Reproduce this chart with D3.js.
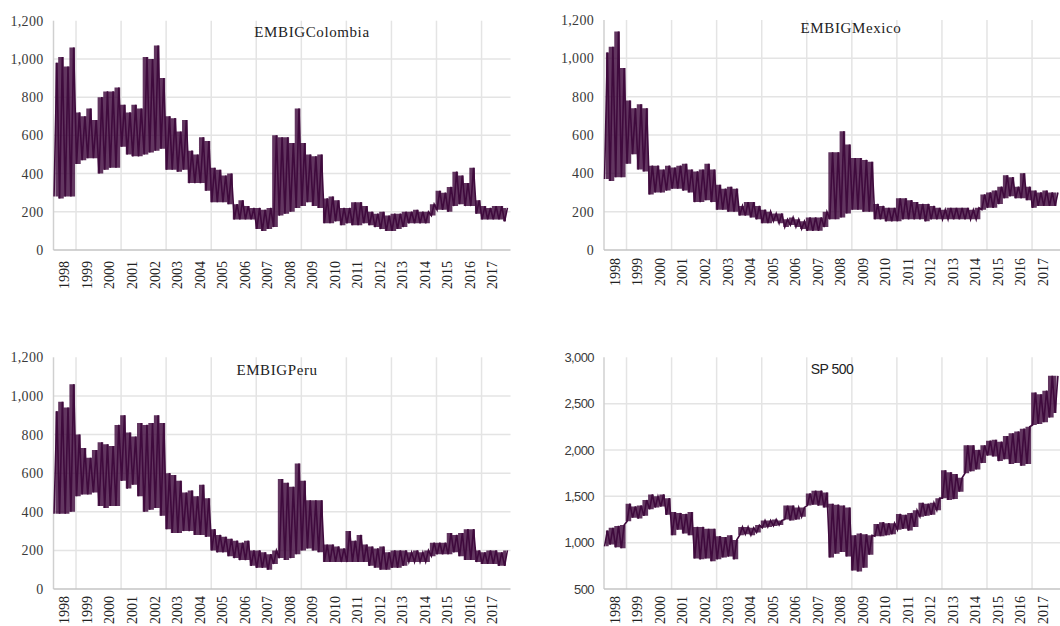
<!DOCTYPE html>
<html>
<head>
<meta charset="utf-8">
<script src="https://cdn.jsdelivr.net/npm/d3@7"></script>
<style>
    body { margin: 0; background: #fff; }
    svg { display: block; }
</style>
</head>
<body>
<div id="chart"></div>
<script>
// quarterly ranges, 1998Q1 .. 2018Q1 (low / high of the daily spread)
let colombia_low = [280, 270, 280, 280, 450, 470, 480, 480, 400, 420, 430, 430, 540, 500, 490, 490,
    500, 510, 520, 530, 420, 420, 410, 420, 350, 350, 350, 310, 250, 250, 250, 240,
    160, 160, 160, 160, 110, 100, 110, 120, 180, 190, 200, 220, 230, 250, 230, 220,
    140, 140, 150, 130, 140, 130, 130, 140, 130, 120, 110, 100, 100, 110, 120, 140,
    140, 140, 140, 180, 210, 210, 200, 230, 240, 230, 230, 190, 160, 160, 160, 160, 150];
let colombia_high = [980, 1010, 960, 1060, 720, 700, 740, 680, 800, 830, 830, 850, 760, 720, 760, 740,
    1010, 1000, 1070, 900, 700, 690, 620, 680, 520, 500, 590, 570, 430, 420, 390, 400,
    240, 260, 230, 220, 220, 210, 220, 600, 590, 590, 560, 740, 560, 500, 490, 500,
    270, 280, 260, 220, 220, 250, 250, 230, 200, 190, 200, 180, 190, 190, 200, 200,
    210, 200, 200, 240, 310, 300, 330, 410, 390, 350, 430, 260, 230, 220, 230, 230, 220];

let mexico_low = [370, 360, 380, 380, 450, 500, 420, 410, 290, 300, 300, 310, 320, 320, 310, 300,
    250, 250, 260, 250, 210, 210, 200, 200, 180, 180, 170, 160, 140, 140, 150, 140,
    120, 130, 120, 110, 100, 100, 100, 120, 160, 160, 170, 190, 210, 210, 200, 200,
    160, 160, 150, 150, 150, 160, 160, 160, 160, 150, 160, 160, 160, 160, 160, 160,
    160, 160, 160, 210, 220, 220, 240, 270, 280, 270, 270, 260, 220, 230, 230, 230, 230];
let mexico_high = [1030, 1060, 1140, 950, 780, 740, 760, 740, 440, 440, 420, 440, 430, 440, 450, 420,
    410, 420, 450, 420, 340, 320, 330, 320, 230, 250, 250, 230, 210, 200, 190, 190,
    160, 170, 160, 150, 170, 170, 170, 200, 510, 510, 620, 550, 480, 480, 470, 460,
    240, 230, 220, 220, 270, 270, 260, 250, 240, 240, 230, 220, 210, 220, 220, 220,
    220, 210, 220, 290, 300, 310, 330, 390, 380, 330, 400, 330, 310, 300, 310, 300, 300];

let peru_low = [390, 390, 390, 400, 480, 490, 490, 500, 430, 420, 430, 430, 560, 520, 540, 480,
    400, 410, 420, 380, 310, 290, 290, 300, 300, 280, 280, 270, 200, 190, 190, 170,
    160, 150, 150, 120, 110, 110, 100, 130, 160, 150, 160, 180, 200, 210, 200, 190,
    140, 140, 140, 140, 140, 140, 140, 140, 120, 110, 100, 100, 110, 110, 120, 140,
    140, 140, 140, 170, 180, 180, 180, 190, 170, 150, 150, 140, 130, 130, 130, 120, 120];
let peru_high = [920, 970, 940, 1060, 800, 730, 680, 720, 760, 750, 740, 850, 900, 810, 790, 860,
    850, 860, 900, 860, 600, 590, 560, 500, 510, 480, 540, 470, 310, 280, 270, 260,
    250, 240, 250, 200, 200, 190, 180, 200, 570, 550, 530, 650, 560, 460, 460, 460,
    230, 230, 220, 210, 300, 250, 280, 230, 220, 210, 220, 190, 200, 200, 200, 190,
    200, 190, 200, 240, 240, 240, 290, 280, 290, 310, 310, 200, 190, 200, 200, 190, 200];

let sp500_low = [960, 980, 950, 940, 1230, 1270, 1260, 1290, 1360, 1380, 1390, 1300, 1080, 1140, 1100, 1080,
    830, 820, 830, 800, 820, 840, 850, 820, 1080, 1090, 1080, 1110, 1160, 1170, 1180, 1190,
    1250, 1240, 1250, 1280, 1400, 1410, 1400, 1380, 840, 880, 900, 850, 700, 690, 730, 870,
    1070, 1070, 1080, 1090, 1140, 1150, 1130, 1170, 1280, 1290, 1300, 1350, 1480, 1460, 1470, 1550,
    1750, 1770, 1790, 1860, 1940, 1930, 1880, 1900, 1850, 1860, 1830, 1850, 2270, 2280, 2300, 2350, 2400];
let sp500_high = [1130, 1160, 1180, 1190, 1420, 1390, 1400, 1460, 1520, 1500, 1520, 1480, 1330, 1320, 1310, 1330,
    1170, 1170, 1150, 1150, 1070, 1060, 1080, 1030, 1170, 1170, 1160, 1190, 1240, 1240, 1250, 1240,
    1400, 1400, 1380, 1380, 1530, 1560, 1560, 1540, 1420, 1410, 1400, 1380, 1080, 1100, 1090, 1080,
    1200, 1220, 1210, 1210, 1310, 1300, 1320, 1350, 1430, 1420, 1430, 1480, 1780, 1760, 1740, 1700,
    2050, 2050, 2000, 2050, 2100, 2110, 2090, 2150, 2180, 2200, 2230, 2250, 2620, 2600, 2640, 2800, 2800];

let embig_ticks = [0, 200, 400, 600, 800, 1000, 1200];
let sp500_ticks = [500, 1000, 1500, 2000, 2500, 3000];
let year_labels = d3.range(1998, 2018);
let grid_years = [1999, 2001, 2003, 2005, 2007, 2009, 2011, 2013, 2015, 2017];

let width = 1060;
let height = 626;
let line_color = "#3f0a3d";
let serif = "'Liberation Serif', 'DejaVu Serif', serif";
let sans = "'Liberation Sans', 'DejaVu Sans', sans-serif";

let panels = [
    { title: "EMBIGColombia", low: colombia_low, high: colombia_high, ticks: embig_ticks,
      x: 53.5, y: 20.7, w: 457, h: 229.3, titleX: 312, titleY: 34, titleFont: serif, tickFont: serif, labelGap: 11 },
    { title: "EMBIGMexico", low: mexico_low, high: mexico_high, ticks: embig_ticks,
      x: 604, y: 20, w: 457, h: 230, titleX: 851, titleY: 30, titleFont: serif, tickFont: serif, labelGap: 8 },
    { title: "EMBIGPeru", low: peru_low, high: peru_high, ticks: embig_ticks,
      x: 53.5, y: 357.3, w: 457, h: 231.7, titleX: 277, titleY: 372, titleFont: serif, tickFont: serif, labelGap: 7 },
    { title: "SP 500", low: sp500_low, high: sp500_high, ticks: sp500_ticks,
      x: 604, y: 357.3, w: 457, h: 231.7, titleX: 832, titleY: 370, titleFont: sans, tickFont: sans, labelGap: 7 }
];

let svg = d3.select("#chart")
    .append("svg")
    .attr("width", width)
    .attr("height", height)
    .style("background", "#fff");

function buildPoints(low, high)
{
    // two readings per quarter: the low, then the high, giving the jagged daily spread
    let points = [];
    for (let i = 0; i < low.length; i++)
    {
        points.push({ date: new Date(1998, i * 3, 10), value: low[i] });
        points.push({ date: new Date(1998, i * 3, 55), value: high[i] });
    }
    return points;
}

function buildRanges(low, high)
{
    // one low/high pair per quarter for the filled spread
    return low.map((lo, i) => ({ date: new Date(1998, i * 3, 32), low: lo, high: high[i] }));
}

function drawPanel(p)
{
    let g = svg.append("g").attr("transform", "translate(" + p.x + "," + p.y + ")");

    let x = d3.scaleTime()
        .domain([new Date(1998, 0, 1), new Date(2018, 3, 15)])
        .range([0, p.w]);
    let y = d3.scaleLinear()
        .domain([p.ticks[0], p.ticks[p.ticks.length - 1]])
        .range([p.h, 0]);

    // horizontal grid
    g.append("g")
        .selectAll("line")
        .data(p.ticks.slice(1, -1))
        .enter()
        .append("line")
        .attr("x1", 0)
        .attr("x2", p.w)
        .attr("y1", d => y(d))
        .attr("y2", d => y(d))
        .attr("stroke", "#e4e4e4")
        .attr("stroke-width", 1.5);

    // vertical grid every two years
    g.append("g")
        .selectAll("line")
        .data(grid_years)
        .enter()
        .append("line")
        .attr("x1", d => x(new Date(d, 0, 1)))
        .attr("x2", d => x(new Date(d, 0, 1)))
        .attr("y1", 0)
        .attr("y2", p.h)
        .attr("stroke", "#e4e4e4")
        .attr("stroke-width", 1.5);

    // axis lines
    g.append("line")
        .attr("x1", 0).attr("x2", 0)
        .attr("y1", 0).attr("y2", p.h)
        .attr("stroke", "#d0d0d0")
        .attr("stroke-width", 1.5);
    g.append("line")
        .attr("x1", 0).attr("x2", p.w)
        .attr("y1", p.h).attr("y2", p.h)
        .attr("stroke", "#c4c4c4")
        .attr("stroke-width", 1.5);

    // y axis labels
    let yAxis = g.append("g")
        .call(d3.axisLeft(y).tickValues(p.ticks).tickSize(0).tickPadding(10).tickFormat(d3.format(",")));
    yAxis.select(".domain").remove();
    yAxis.attr("font-family", p.tickFont);
    yAxis.selectAll("text")
        .style("font-family", p.tickFont)
        .style("font-size", p.tickFont === sans ? "13px" : "14px")
        .style("letter-spacing", p.tickFont === sans ? "-0.6px" : "0.3px")
        .attr("fill", "#3a3a3a");

    // x axis labels, one per year, rotated
    let xAxis = g.append("g")
        .attr("transform", "translate(0," + p.h + ")")
        .call(d3.axisBottom(x)
            .tickValues(year_labels.map(yr => new Date(yr, 5, 20)))
            .tickSize(0)
            .tickFormat(d3.timeFormat("%Y")));
    xAxis.select(".domain").remove();
    xAxis.attr("font-family", serif);
    xAxis.selectAll("text")
        .attr("transform", "rotate(-90)")
        .attr("x", -p.labelGap)
        .attr("y", 0)
        .attr("dy", "0.35em")
        .style("text-anchor", "end")
        .style("font-family", serif)
        .style("font-size", "14px")
        .attr("fill", "#222");

    // the spread band, blocky like the daily data
    let area = d3.area()
        .curve(d3.curveStep)
        .x(d => x(d.date))
        .y0(d => y(d.low))
        .y1(d => y(d.high));

    g.append("path")
        .datum(buildRanges(p.low, p.high))
        .attr("fill", line_color)
        .attr("fill-opacity", 0.82)
        .attr("d", area);

    // the jagged series on top
    let line = d3.line()
        .x(d => x(d.date))
        .y(d => y(d.value));

    g.append("path")
        .datum(buildPoints(p.low, p.high))
        .attr("fill", "none")
        .attr("stroke", line_color)
        .attr("stroke-width", 1.6)
        .attr("d", line);

    // title
    g.append("text")
        .attr("x", p.titleX - p.x)
        .attr("y", p.titleY - p.y)
        .attr("text-anchor", "middle")
        .attr("dominant-baseline", "middle")
        .style("font-family", p.titleFont)
        .style("font-size", p.titleFont === sans ? "14px" : "15px")
        .style("letter-spacing", p.titleFont === sans ? "-0.5px" : "0.6px")
        .attr("fill", "#222")
        .text(p.title);
}

panels.forEach(drawPanel);
</script>
</body>
</html>
